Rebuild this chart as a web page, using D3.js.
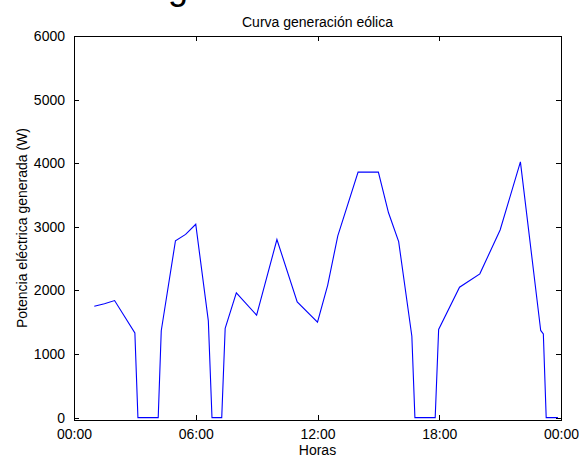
<!DOCTYPE html>
<html>
<head>
<meta charset="utf-8">
<script src="https://cdn.jsdelivr.net/npm/d3@7"></script>
<style>
  html, body { margin: 0; padding: 0; background: #fff; }
  svg { display: block; font-family: "Liberation Sans", Arial, sans-serif; }
</style>
</head>
<body>
<svg id="chart" width="579" height="457"></svg>
<script>
// Hora del día (h) y potencia eléctrica generada (W)
const hours = [1.0, 1.5, 2.0, 3.0, 3.15, 4.15, 4.3, 5.0, 5.5, 6.0, 6.62, 6.8, 7.28, 7.45,
  8.0, 9.0, 10.0, 11.0, 12.0, 12.5, 13.0, 14.0, 15.0, 15.5, 16.0, 16.65, 16.8, 17.8, 17.97,
  19.0, 20.0, 21.0, 22.0, 23.0, 23.13, 23.27, 23.85];
const potencia = [1750, 1790, 1840, 1330, 0, 0, 1365, 2780, 2880, 3040, 1520, 0, 0, 1405,
  1960, 1610, 2800, 1820, 1500, 2080, 2857, 3860, 3860, 3220, 2767, 1280, 0, 0, 1385,
  2050, 2260, 2950, 4020, 1370, 1315, 0, 0];

const xTicks = [0, 6, 12, 18, 24];
const xTickLabels = ["00:00", "06:00", "12:00", "18:00", "00:00"];
const yTicks = [0, 1000, 2000, 3000, 4000, 5000, 6000];

const titulo = "Curva generación eólica";
const ejeX = "Horas";
const ejeY = "Potencia eléctrica generada (W)";

const svg = d3.select("#chart");
const plotL = 74, plotR = 561, plotT = 36, plotB = 420;

const x = d3.scaleLinear().domain([0, 24]).range([plotL, plotR]);
const y = d3.scaleLinear().domain([-38, 6000]).range([plotB, plotT]);

const fs = 14;
const tickLen = 5;

// Cabecera de la figura, recortada por el borde superior
svg.append("text")
  .attr("x", 168).attr("y", -1)
  .attr("font-size", 36)
  .attr("fill", "#000")
  .text("g");

// Curva de potencia
const line = d3.line().x((d, i) => x(hours[i])).y(d => y(d));
svg.append("path")
  .datum(potencia)
  .attr("d", line)
  .attr("fill", "none")
  .attr("stroke", "#0000ff")
  .attr("stroke-width", 1.1);

// Ejes con marcas hacia dentro en los cuatro lados
const fmtX = d => xTickLabels[xTicks.indexOf(d)];

const gB = svg.append("g").attr("transform", `translate(0,${plotB})`)
  .call(d3.axisBottom(x).tickValues(xTicks).tickFormat(fmtX).tickSizeInner(-tickLen).tickSizeOuter(0).tickPadding(9));
const gT = svg.append("g").attr("transform", `translate(0,${plotT})`)
  .call(d3.axisTop(x).tickValues(xTicks).tickFormat("").tickSizeInner(-tickLen).tickSizeOuter(0));
const gL = svg.append("g").attr("transform", `translate(${plotL},0)`)
  .call(d3.axisLeft(y).tickValues(yTicks).tickFormat(d3.format("d")).tickSizeInner(-tickLen).tickSizeOuter(0).tickPadding(9));
const gR = svg.append("g").attr("transform", `translate(${plotR},0)`)
  .call(d3.axisRight(y).tickValues(yTicks).tickFormat("").tickSizeInner(-tickLen).tickSizeOuter(0));

[gB, gT, gL, gR].forEach(g => {
  g.select(".domain").remove();
  g.selectAll("line").attr("stroke", "#000").attr("shape-rendering", "crispEdges");
  g.selectAll("text").attr("font-size", fs).attr("fill", "#000")
    .attr("font-family", "Liberation Sans, Arial, sans-serif");
});

// Marco
svg.append("rect")
  .attr("x", plotL).attr("y", plotT)
  .attr("width", plotR - plotL).attr("height", plotB - plotT)
  .attr("fill", "none").attr("stroke", "#000").attr("stroke-width", 1)
  .attr("shape-rendering", "crispEdges");

// Títulos
svg.append("text")
  .attr("x", (plotL + plotR) / 2).attr("y", 27)
  .attr("text-anchor", "middle").attr("font-size", fs)
  .text(titulo);

svg.append("text")
  .attr("x", (plotL + plotR) / 2).attr("y", 455)
  .attr("text-anchor", "middle").attr("font-size", fs)
  .text(ejeX);

svg.append("text")
  .attr("transform", `translate(27,${(plotT + plotB) / 2}) rotate(-90)`)
  .attr("text-anchor", "middle").attr("font-size", fs)
  .text(ejeY);
</script>
</body>
</html>
